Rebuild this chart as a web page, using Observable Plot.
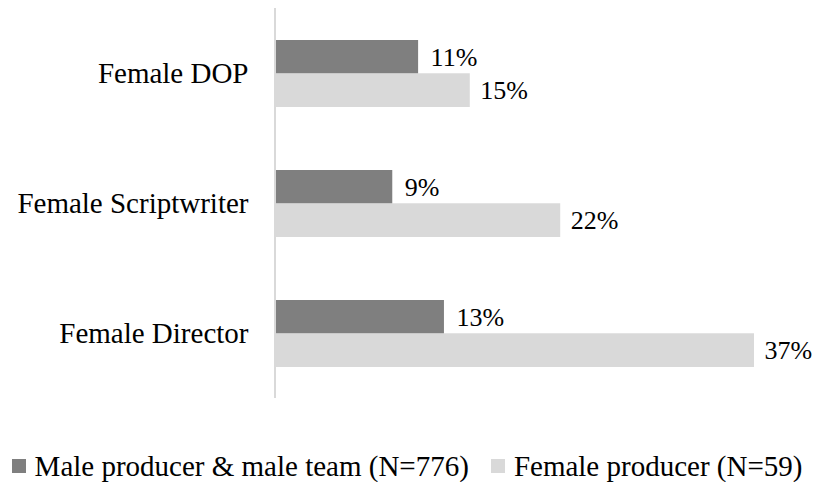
<!DOCTYPE html>
<html><head><meta charset="utf-8">
<script src="https://cdn.jsdelivr.net/npm/d3@7"></script>
<script src="https://cdn.jsdelivr.net/npm/@observablehq/plot@0.6"></script>
<style>
body{margin:0;background:#fff;font-family:"Liberation Serif",serif;}
#chart svg{display:block;overflow:visible}
#legend{display:flex;justify-content:center;align-items:center;gap:22px;font-size:29px;line-height:32px;height:32px;color:#000;margin-top:10px;white-space:nowrap}
.item{display:flex;align-items:center}
.sw{display:inline-block;width:14px;height:14px;margin-right:9px}
</style></head><body><div id="chart"></div><div id="legend"></div>
<script>
const categories = ["Female DOP", "Female Scriptwriter", "Female Director"];
const series = ["Male producer & male team (N=776)", "Female producer (N=59)"];
const maleTeam = [11, 9, 13];
const femaleProducer = [15, 22, 37];
const colors = ["#7f7f7f", "#d9d9d9"];

const data = categories.flatMap((c, i) => [
  {category: c, series: series[0], value: maleTeam[i]},
  {category: c, series: series[1], value: femaleProducer[i]}
]);

const W = 814, H = 440, mT = 8, mB = 42, pad = 0.488;
const stepPx = (H - mT - mB) / categories.length;
const half = stepPx * (1 - pad) / 2;
const font = "Liberation Serif, serif";

const plot = Plot.plot({
  width: W, height: H,
  marginLeft: 276, marginRight: 60, marginTop: mT, marginBottom: mB,
  style: {fontFamily: font, fontSize: "29px", color: "#000", background: "#fff"},
  x: {domain: [0, 37], axis: null},
  y: {domain: categories, paddingInner: pad, paddingOuter: pad / 2, label: null},
  marks: [
    Plot.barX(data.filter(d => d.series === series[0]), {x: "value", y: "category", fill: colors[0], insetBottom: half}),
    Plot.barX(data.filter(d => d.series === series[1]), {x: "value", y: "category", fill: colors[1], insetTop: half}),
    Plot.text(data.filter(d => d.series === series[0]), {x: "value", y: "category", text: d => d.value + "%", dy: -half / 2, dx: 12, textAnchor: "start", fontSize: 26, fill: "#000"}),
    Plot.text(data.filter(d => d.series === series[1]), {x: "value", y: "category", text: d => d.value + "%", dy: half / 2, dx: 10, textAnchor: "start", fontSize: 26, fill: "#000"}),
    Plot.ruleX([0], {stroke: "#d9d9d9", strokeWidth: 2, dx: -1.5}),
    Plot.axisY({tickSize: 0, tickPadding: 28, fontSize: 29, label: null, fill: "#000"})
  ]
});
document.getElementById("chart").appendChild(plot);

const legend = document.getElementById("legend");
series.forEach((s, i) => {
  const it = document.createElement("span");
  it.className = "item";
  it.innerHTML = `<span class="sw" style="background:${colors[i]}"></span><span>${s}</span>`;
  legend.appendChild(it);
});
</script>
</body></html>
